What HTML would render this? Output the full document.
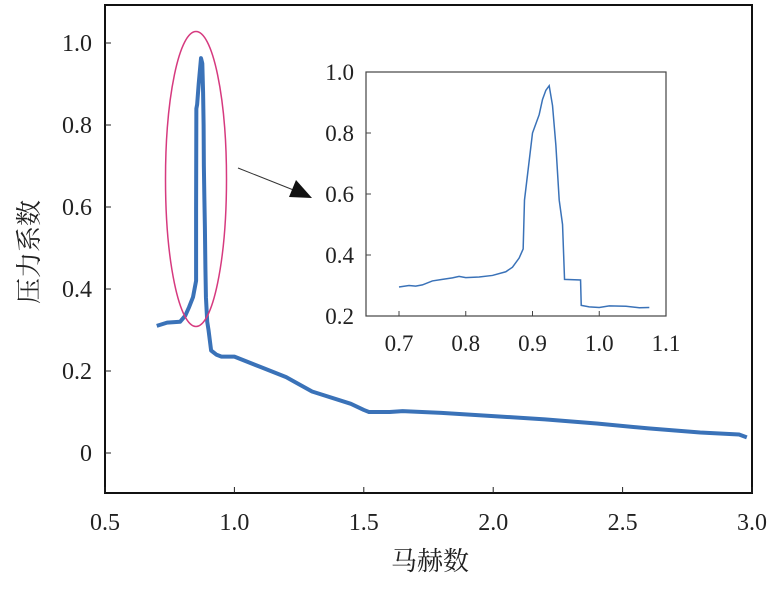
<!DOCTYPE html>
<html><head><meta charset="utf-8"><style>
body{margin:0;background:#fff}
svg text{font-family:"Liberation Serif","Times New Roman",serif;fill:#222}
svg text.cjk{font-family:"Liberation Serif","Noto Serif CJK SC",serif}
</style></head><body>
<svg width="775" height="586">
<g id="main"></g><g id="inset"></g>
</svg>
<script>
const mainTicksX=[0.5,1.0,1.5,2.0,2.5,3.0];
const mainTickLabelsX=["0.5","1.0","1.5","2.0","2.5","3.0"];
const mainTicksY=[0,0.2,0.4,0.6,0.8,1.0];
const mainTickLabelsY=["0","0.2","0.4","0.6","0.8","1.0"];
const mainMach=[0.70,0.74,0.79,0.81,0.825,0.84,0.852,0.852,0.853,0.856,0.862,0.871,0.876,0.879,0.881,0.882,0.884,0.886,0.888,0.89,0.895,0.90,0.91,0.93,0.95,1.0,1.1,1.2,1.3,1.45,1.5,1.52,1.6,1.65,1.8,2.0,2.2,2.4,2.6,2.8,2.95,2.98];
const mainCp=[0.31,0.318,0.32,0.335,0.356,0.38,0.42,0.6,0.84,0.85,0.90,0.963,0.95,0.88,0.80,0.70,0.62,0.55,0.45,0.38,0.32,0.30,0.25,0.24,0.235,0.235,0.21,0.185,0.15,0.12,0.105,0.10,0.10,0.102,0.098,0.09,0.082,0.072,0.06,0.05,0.045,0.038];
const insetTicksX=[0.7,0.8,0.9,1.0,1.1];
const insetTickLabelsX=["0.7","0.8","0.9","1.0","1.1"];
const insetTicksY=[0.2,0.4,0.6,0.8,1.0];
const insetTickLabelsY=["0.2","0.4","0.6","0.8","1.0"];
const insetMach=[0.70,0.715,0.725,0.735,0.75,0.765,0.78,0.79,0.80,0.82,0.84,0.86,0.87,0.88,0.886,0.888,0.90,0.91,0.915,0.92,0.925,0.93,0.935,0.94,0.945,0.948,0.972,0.973,0.985,1.0,1.015,1.04,1.06,1.075];
const insetCp=[0.295,0.30,0.298,0.302,0.315,0.32,0.325,0.33,0.326,0.328,0.333,0.345,0.36,0.39,0.42,0.58,0.80,0.86,0.91,0.94,0.955,0.89,0.76,0.58,0.50,0.32,0.318,0.235,0.23,0.228,0.233,0.232,0.227,0.228];

const NS="http://www.w3.org/2000/svg";
function mk(parent,tag,attrs){const e=document.createElementNS(NS,tag);for(const k in attrs)e.setAttribute(k,attrs[k]);parent.appendChild(e);return e;}
const mx=v=>105+(v-0.5)/2.5*647, my=v=>453-v*410;
const M=document.getElementById('main');
let fr=mk(M,'rect',{x:105,y:5,width:647,height:488,fill:'none',stroke:'#111','stroke-width':2});


mainTicksX.forEach((v,i)=>{
  mk(M,'line',{x1:mx(v),x2:mx(v),y1:493,y2:487,stroke:'#222'});
  const t=mk(M,'text',{x:mx(v),y:530,'text-anchor':'middle','font-size':24});t.textContent=mainTickLabelsX[i];
  
  
});
mainTicksY.forEach((v,i)=>{
  mk(M,'line',{x1:105,x2:111,y1:my(v),y2:my(v),stroke:'#222'});
  const t=mk(M,'text',{x:92,y:my(v)+8,'text-anchor':'end','font-size':24});t.textContent=mainTickLabelsY[i];
  
  
});
let xt=mk(M,'text',{x:430,y:570,'text-anchor':'middle','font-size':26,'class':'cjk'});xt.textContent='马赫数';


let yt=mk(M,'text',{x:0,y:0,'text-anchor':'middle','font-size':26,'class':'cjk',transform:'translate(38,252) rotate(-90)'});yt.textContent='压力系数';


let p=mk(M,'polyline',{points:mainMach.map((m,i)=>mx(m)+','+my(mainCp[i])).join(' '),fill:'none',stroke:'#3a72b8','stroke-width':4,'stroke-linejoin':'round'});


let el=mk(M,'ellipse',{cx:196,cy:179,rx:30.5,ry:147.5,fill:'none',stroke:'#d63a7f','stroke-width':1.5});


let ar=mk(M,'line',{x1:238,y1:168,x2:296,y2:191,stroke:'#333','stroke-width':1});


mk(M,'polygon',{points:'312,198 289,197 296,180',fill:'#111'});
const ix=v=>399+(v-0.7)/0.1*66.75, iy=v=>316-(v-0.2)*305;
const I=document.getElementById('inset');
let ifr=mk(I,'rect',{x:366,y:72,width:300,height:244,fill:'#fff',stroke:'#444','stroke-width':1.2});


insetTicksX.forEach((v,i)=>{
  mk(I,'line',{x1:ix(v),x2:ix(v),y1:316,y2:311,stroke:'#444'});
  const t=mk(I,'text',{x:ix(v),y:351,'text-anchor':'middle','font-size':23});t.textContent=insetTickLabelsX[i];
  
  
});
insetTicksY.forEach((v,i)=>{
  mk(I,'line',{x1:366,x2:371,y1:iy(v),y2:iy(v),stroke:'#444'});
  const t=mk(I,'text',{x:354,y:iy(v)+8,'text-anchor':'end','font-size':23});t.textContent=insetTickLabelsY[i];
  
  
});
let ip=mk(I,'polyline',{points:insetMach.map((m,i)=>ix(m)+','+iy(insetCp[i])).join(' '),fill:'none',stroke:'#3a72b8','stroke-width':1.5});


</script>
</body></html>
